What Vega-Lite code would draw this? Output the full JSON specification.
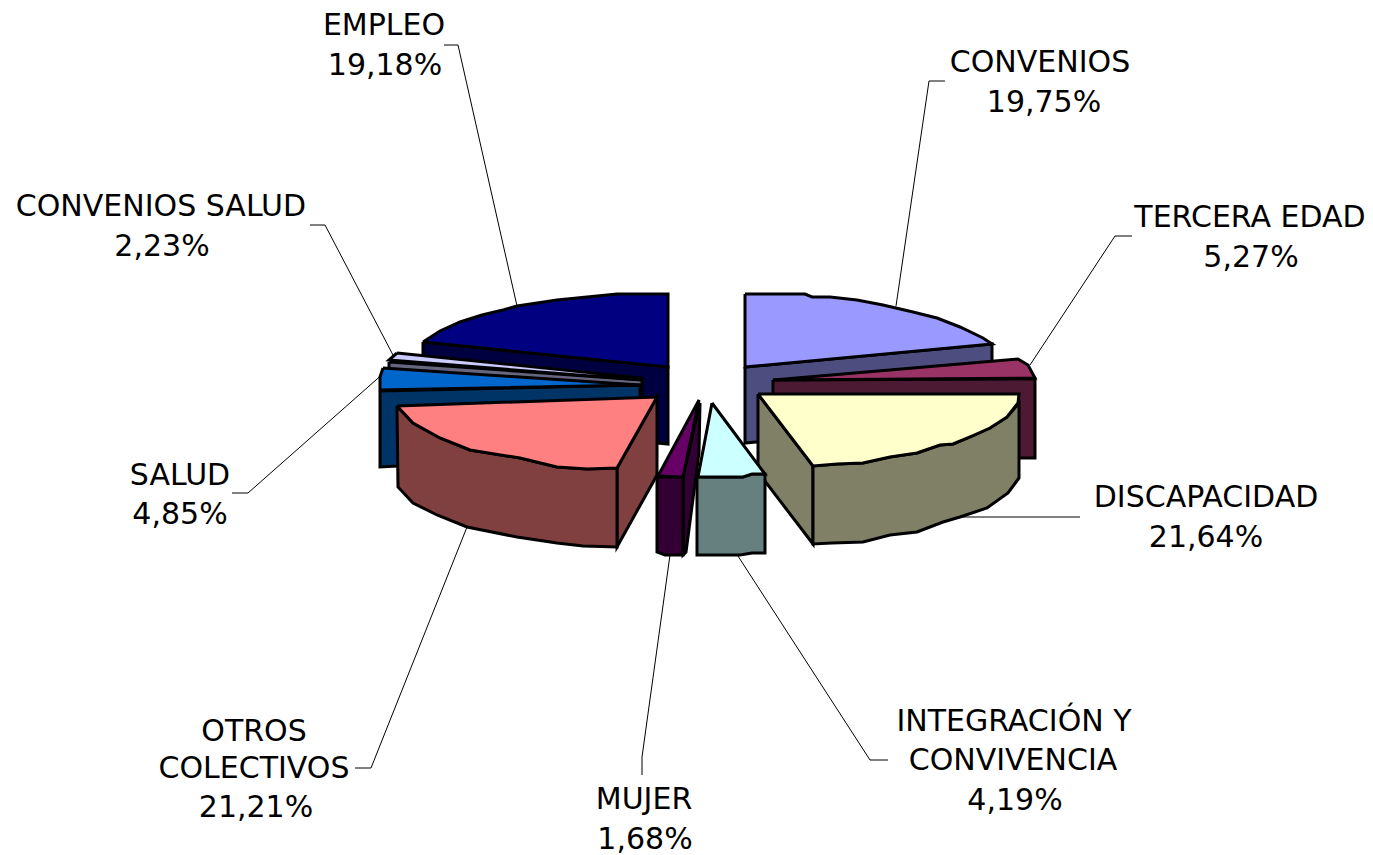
{"$schema":"https://vega.github.io/schema/vega-lite/v6.json","width":1373,"height":855,"padding":0,"autosize":{"type":"fit","contains":"padding"},"background":"white","config":{"view":{"stroke":null}},
"datasets":{
"faces":[
{"face":"EMPLEO side","p":[[423,342],[668,367],[668,444],[423,420],[423,342]]},
{"face":"EMPLEO top","p":[[423,342],[440,331],[460,322],[482,315],[503,310],[517,306],[557,300],[587,297],[617,294],[668,294],[668,367],[423,342]]},
{"face":"CONVENIOS side","p":[[745,367],[992,344],[992,420],[745,443],[745,367]]},
{"face":"CONVENIOS top","p":[[745,294],[805,294],[812,297],[830,297],[857,300],[883,305],[913,312],[937,318],[960,327],[983,338],[992,344],[745,367],[745,294]]},
{"face":"TERCERA EDAD side","p":[[773,380],[1035,379],[1035,458],[773,458],[773,380]]},
{"face":"TERCERA EDAD top","p":[[773,380],[1018,359],[1028,365],[1035,378],[773,380]]},
{"face":"DISCAPACIDAD left","p":[[758,394],[813,466],[813,544],[758,472],[758,394]]},
{"face":"DISCAPACIDAD side","p":[[813,466],[837,464],[863,463],[890,457],[917,453],[940,445],[953,444],[972,436],[990,428],[1007,417],[1019,403],[1019,478],[1008,493],[987,508],[960,517],[943,522],[917,532],[890,535],[863,542],[832,543],[813,544],[813,466]]},
{"face":"DISCAPACIDAD top","p":[[758,394],[1019,394],[1018,403],[1007,417],[990,428],[972,436],[953,444],[940,445],[917,453],[890,457],[863,463],[837,464],[813,466],[758,394]]},
{"face":"CONVENIOS SALUD side","p":[[389,362],[642,380],[642,400],[389,400],[389,362]]},
{"face":"CONVENIOS SALUD top","p":[[397,353],[389,360],[642,380],[642,378],[397,353]]},
{"face":"SALUD side","p":[[380,391],[640,385],[640,400],[398,466],[380,467],[380,391]]},
{"face":"SALUD top","p":[[383,368],[380,377],[380,390],[640,385],[383,368]]},
{"face":"OTROS right","p":[[617,468],[657,397],[657,475],[617,547],[617,468]]},
{"face":"OTROS side","p":[[397,406],[413,423],[440,438],[470,450],[520,458],[557,467],[587,469],[617,468],[617,547],[583,546],[557,543],[517,537],[467,527],[437,515],[413,503],[398,487],[397,406]]},
{"face":"OTROS top","p":[[397,406],[657,397],[617,468],[587,469],[557,467],[520,458],[470,450],[440,438],[413,423],[397,406]]},
{"face":"MUJER right","p":[[683,477],[700,403],[699,453],[686,552],[683,555],[683,477]]},
{"face":"MUJER side","p":[[657,477],[683,477],[683,555],[665,555],[657,552],[657,477]]},
{"face":"MUJER top","p":[[658,476],[699,400],[683,477],[658,476]]},
{"face":"INTEGRACION side","p":[[697,477],[743,477],[752,474],[765,474],[765,553],[752,553],[740,555],[697,555],[697,477]]},
{"face":"INTEGRACION top","p":[[712,403],[765,474],[752,474],[743,477],[698,477],[712,403]]}
],
"leaders":[
{"id":"EMPLEO","p":[[444,45],[458,45],[517,306]]},
{"id":"CONVENIOS","p":[[945,81],[929,81],[896,306]]},
{"id":"TERCERA EDAD","p":[[1132,236],[1115,236],[1030,365]]},
{"id":"DISCAPACIDAD","p":[[1080,517],[960,517]]},
{"id":"INTEGRACION","p":[[888,760],[870,760],[736,553]]},
{"id":"MUJER","p":[[642,775],[642,757],[670,555]]},
{"id":"OTROS","p":[[355,768],[371,768],[467,527]]},
{"id":"SALUD","p":[[232,493],[248,493],[385,372]]},
{"id":"CONVENIOS SALUD","p":[[310,225],[325,225],[393,355]]}
],
"labels":[
{"t":"EMPLEO","x":384,"y":25},{"t":"19,18%","x":385,"y":65},
{"t":"CONVENIOS","x":1040,"y":62},{"t":"19,75%","x":1044,"y":102},
{"t":"TERCERA EDAD","x":1250,"y":217},{"t":"5,27%","x":1251,"y":257},
{"t":"DISCAPACIDAD","x":1206,"y":497},{"t":"21,64%","x":1206,"y":537},
{"t":"INTEGRACIÓN Y","x":1014,"y":721},{"t":"CONVIVENCIA","x":1013,"y":760},{"t":"4,19%","x":1015,"y":800},
{"t":"MUJER","x":644,"y":799},{"t":"1,68%","x":645,"y":839},
{"t":"OTROS","x":254,"y":731},{"t":"COLECTIVOS","x":254,"y":768},{"t":"21,21%","x":256,"y":807},
{"t":"SALUD","x":180,"y":475},{"t":"4,85%","x":180,"y":514},
{"t":"CONVENIOS SALUD","x":161,"y":206},{"t":"2,23%","x":162,"y":246}
]},
"layer":[
{"data":{"name":"leaders"},"transform":[{"flatten":["p"]},{"calculate":"datum.p[0]","as":"px"},{"calculate":"datum.p[1]","as":"py"},{"window":[{"op":"row_number","as":"o"}],"groupby":["id"]}],
"mark":{"type":"line","stroke":"black","strokeWidth":1,"interpolate":"linear"},
"encoding":{"x":{"field":"px","type":"quantitative","axis":null,"scale":{"domain":[0,1373],"nice":false,"zero":false}},"y":{"field":"py","type":"quantitative","axis":null,"scale":{"domain":[855,0],"nice":false,"zero":false}},"detail":{"field":"id"},"order":{"field":"o"}}},
{"data":{"name":"faces"},"transform":[{"flatten":["p"]},{"calculate":"datum.p[0]","as":"px"},{"calculate":"datum.p[1]","as":"py"},{"window":[{"op":"row_number","as":"o"}],"groupby":["face"]}],
"mark":{"type":"line","stroke":"black","strokeWidth":3,"strokeJoin":"miter"},
"encoding":{"x":{"field":"px","type":"quantitative"},"y":{"field":"py","type":"quantitative"},"detail":{"field":"face"},"order":{"field":"o"},
"fill":{"field":"face","type":"nominal","legend":null,"sort":null,"scale":{"domain":["EMPLEO side","EMPLEO top","CONVENIOS side","CONVENIOS top","TERCERA EDAD side","TERCERA EDAD top","DISCAPACIDAD left","DISCAPACIDAD side","DISCAPACIDAD top","CONVENIOS SALUD side","CONVENIOS SALUD top","SALUD side","SALUD top","OTROS right","OTROS side","OTROS top","MUJER right","MUJER side","MUJER top","INTEGRACION side","INTEGRACION top"],"range":["#000040","#000080","#4D4D80","#9999FF","#4D1A33","#993366","#808066","#808066","#FFFFCC","#666680","#CCCCFF","#003366","#0066CC","#804040","#804040","#FF8080","#330033","#330033","#660066","#668080","#CCFFFF"]}}}},
{"data":{"name":"labels"},"mark":{"type":"text","font":"DejaVu Sans","fontSize":30,"dy":1,"align":"center","baseline":"middle","color":"black"},
"encoding":{"x":{"field":"x","type":"quantitative"},"y":{"field":"y","type":"quantitative"},"text":{"field":"t"}}}
]}
